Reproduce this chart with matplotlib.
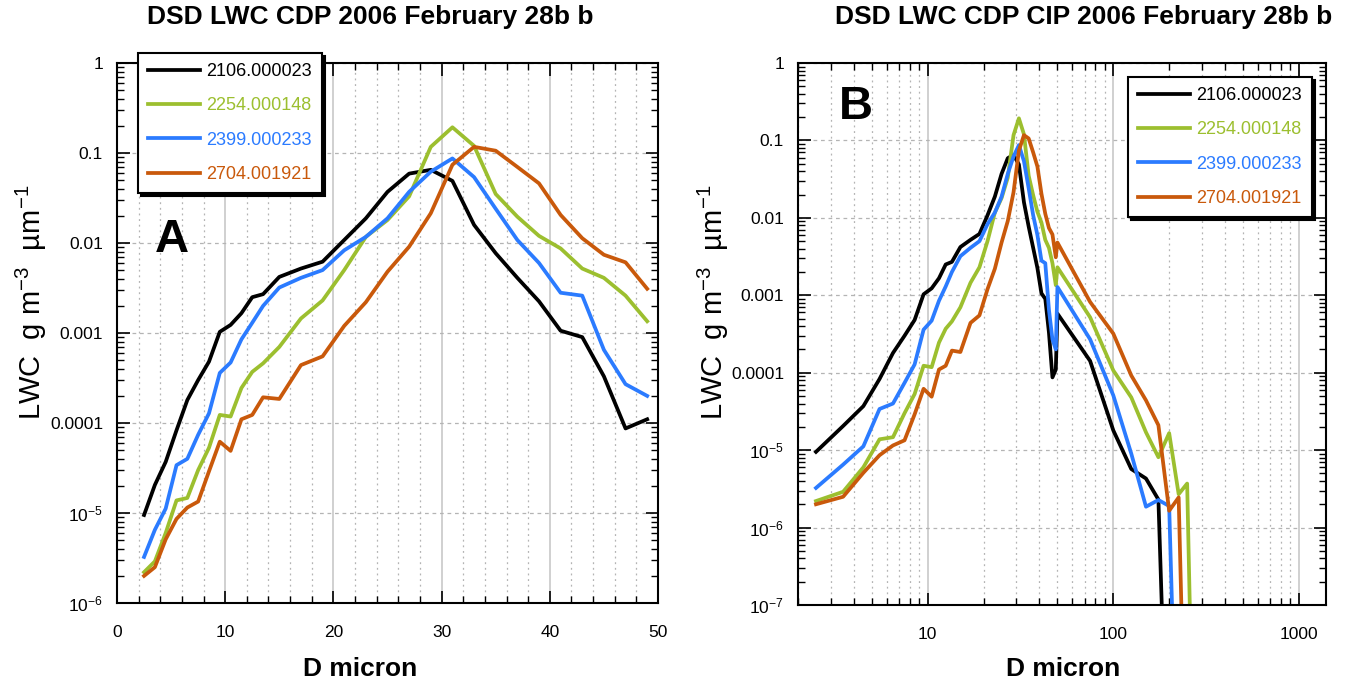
import numpy as np
import matplotlib
matplotlib.use('Agg')
import matplotlib.pyplot as plt
from matplotlib.ticker import FixedLocator, FuncFormatter, MultipleLocator, NullFormatter

plt.rcParams['font.family'] = ['Liberation Sans', 'DejaVu Sans']
plt.rcParams['mathtext.default'] = 'regular'

# CDP bin centres (micron)
d_cdp = [2.5, 3.5, 4.5, 5.5, 6.5, 7.5, 8.5, 9.5, 10.5, 11.5, 12.5, 13.5,
         15, 17, 19, 21, 23, 25, 27, 29, 31, 33, 35, 37, 39, 41, 43, 45, 47, 49]
# CIP bin centres (micron)
d_cip = [50, 75, 100, 125, 150, 175, 200, 225, 250, 275]

labels = ['2106.000023', '2254.000148', '2399.000233', '2704.001921']
colors = ['#000000', '#9cbf2f', '#2b7bff', '#c9590b']

# LWC  g m-3 um-1, CDP part
cdp_2106 = [9.5e-6, 2.05e-5, 3.7e-5, 8.3e-5, 1.8e-4, 3.0e-4, 4.8e-4, 1.03e-3, 1.23e-3, 1.66e-3,
            2.5e-3, 2.7e-3, 4.2e-3, 5.2e-3, 6.2e-3, 1.08e-2, 1.88e-2, 3.7e-2, 5.9e-2, 6.5e-2,
            4.9e-2, 1.59e-2, 7.7e-3, 4.1e-3, 2.25e-3, 1.06e-3, 9.0e-4, 3.3e-4, 8.7e-5, 1.1e-4]
cdp_2254 = [2.2e-6, 2.9e-6, 6.0e-6, 1.38e-5, 1.47e-5, 3.0e-5, 5.3e-5, 1.23e-4, 1.18e-4, 2.45e-4,
            3.7e-4, 4.6e-4, 7.0e-4, 1.45e-3, 2.3e-3, 5.0e-3, 1.17e-2, 1.8e-2, 3.3e-2, 1.17e-1,
            1.93e-1, 1.2e-1, 3.5e-2, 1.96e-2, 1.2e-2, 8.7e-3, 5.2e-3, 4.1e-3, 2.6e-3, 1.35e-3]
cdp_2399 = [3.25e-6, 6.5e-6, 1.12e-5, 3.4e-5, 4.0e-5, 7.4e-5, 1.28e-4, 3.6e-4, 4.7e-4, 8.5e-4,
            1.3e-3, 2.0e-3, 3.2e-3, 4.1e-3, 5.0e-3, 8.3e-3, 1.17e-2, 1.88e-2, 3.7e-2, 6.2e-2,
            8.7e-2, 5.4e-2, 2.4e-2, 1.08e-2, 6.0e-3, 2.8e-3, 2.6e-3, 6.5e-4, 2.7e-4, 2.0e-4]
cdp_2704 = [2.0e-6, 2.5e-6, 5.1e-6, 8.6e-6, 1.15e-5, 1.34e-5, 2.9e-5, 6.2e-5, 4.9e-5, 1.1e-4,
            1.23e-4, 1.93e-4, 1.85e-4, 4.4e-4, 5.5e-4, 1.2e-3, 2.2e-3, 4.8e-3, 9.1e-3, 2.14e-2,
            7.4e-2, 1.17e-1, 1.06e-1, 7.0e-2, 4.6e-2, 2.05e-2, 1.13e-2, 7.4e-3, 6.1e-3, 3.1e-3]

# CIP part (last value ~ empty bin)
cip_2106 = [5.8e-4, 1.42e-4, 1.8e-5, 5.7e-6, 4.3e-6, 2.3e-6, 1e-10]
cip_2254 = [2.3e-3, 5.2e-4, 1.07e-4, 4.8e-5, 1.7e-5, 8.1e-6, 1.66e-5, 2.7e-6, 3.7e-6, 1e-10]
cip_2399 = [1.28e-3, 2.7e-4, 5.1e-5, 9.0e-6, 1.86e-6, 2.27e-6, 1.9e-6, 1e-10]
cip_2704 = [4.8e-3, 8.2e-4, 3.2e-4, 9.2e-5, 4.4e-5, 2.1e-5, 1.65e-6, 2.45e-6, 1e-10]

cdp_all = [cdp_2106, cdp_2254, cdp_2399, cdp_2704]
cip_all = [cip_2106, cip_2254, cip_2399, cip_2704]


def yfmt(v, pos):
    e = int(round(np.log10(v)))
    names = {0: '1', -1: '0.1', -2: '0.01', -3: '0.001', -4: '0.0001'}
    if e >= -4:
        return names.get(e, '')
    return r'10$^{%d}$' % e


W, H = 1356, 688
fig = plt.figure(figsize=(W / 100, H / 100), dpi=100)
ax1 = fig.add_axes([117 / W, 1 - 603 / H, 541 / W, 540 / H])
ax2 = fig.add_axes([798 / W, 1 - 605 / H, 528 / W, 542 / H])

lw = 2.7
for i in range(4):
    ax1.plot(d_cdp, cdp_all[i], color=colors[i], lw=lw, label=labels[i])
    n = len(cip_all[i])
    # CDP + CIP joined in one line
    ax2.plot(d_cdp + d_cip[:n], cdp_all[i] + cip_all[i], color=colors[i], lw=lw, label=labels[i])

grid_c = '#b4b4b4'
for ax, lo in ((ax1, -6), (ax2, -7)):
    ax.set_yscale('log')
    ax.set_ylim(10.0 ** lo, 1)
    ax.yaxis.set_major_locator(FixedLocator([10.0 ** e for e in range(lo, 1)]))
    ax.yaxis.set_minor_locator(FixedLocator([m * 10.0 ** e for e in range(lo, 0) for m in range(2, 10)]))
    ax.yaxis.set_major_formatter(FuncFormatter(yfmt))
    ax.yaxis.set_minor_formatter(NullFormatter())
    ax.tick_params(which='both', direction='in', top=True, right=True, labelsize=12.5)
    ax.tick_params(which='major', length=9, width=1.2)
    ax.tick_params(which='minor', length=5, width=1)
    ax.tick_params(axis='y', pad=10)
    ax.tick_params(axis='x', pad=16)
    for s in ax.spines.values():
        s.set_linewidth(1.5)
    ax.grid(True, which='major', axis='x', color='#c8c8c8', lw=1.2, ls='-')
    ax.grid(True, which='minor', axis='x', color=grid_c, lw=0.9, ls=(0, (1.5, 3)))
    ax.grid(True, which='major', axis='y', color=grid_c, lw=0.9, ls=(0, (3, 3)))
    ax.set_axisbelow(True)

ax1.set_xlim(0, 50)
ax1.xaxis.set_major_locator(MultipleLocator(10))
ax1.xaxis.set_minor_locator(MultipleLocator(2))

ax2.set_xscale('log')
ax2.set_xlim(2, 1400)
ax2.xaxis.set_major_locator(FixedLocator([10, 100, 1000]))
ax2.xaxis.set_major_formatter(FuncFormatter(lambda v, p: '%d' % v))
ax2.xaxis.set_minor_locator(FixedLocator([m * 10.0 ** e for e in range(0, 4) for m in range(2, 10)]))
ax2.xaxis.set_minor_formatter(NullFormatter())

ylab = r'LWC  g m$^{-3}$  µm$^{-1}$'
fig.text(31 / W, 1 - 302 / H, ylab, rotation=90, ha='center', va='center', fontsize=21)
fig.text(713 / W, 1 - 302 / H, ylab, rotation=90, ha='center', va='center', fontsize=21)

fig.text(370 / W, 1 - 17 / H, 'DSD LWC CDP 2006 February 28b b',
         ha='center', va='center', fontsize=19, fontweight='bold')
fig.text(1084 / W, 1 - 17 / H, 'DSD LWC CDP CIP 2006 February 28b b',
         ha='center', va='center', fontsize=19, fontweight='bold')
fig.text(360 / W, 1 - 669 / H, 'D micron', ha='center', va='center', fontsize=19, fontweight='bold')
fig.text(1063 / W, 1 - 669 / H, 'D micron', ha='center', va='center', fontsize=19, fontweight='bold')

fig.text(172 / W, 1 - 240 / H, 'A', ha='center', va='center', fontsize=34, fontweight='bold')
fig.text(856 / W, 1 - 107 / H, 'B', ha='center', va='center', fontsize=34, fontweight='bold')

leg_kw = dict(loc='upper left', borderaxespad=0, fancybox=False, framealpha=1,
              edgecolor='black', fontsize=13, labelcolor='linecolor',
              handlelength=2.9, handletextpad=0.35, labelspacing=0.96, borderpad=0.55,
              shadow={'color': 'black', 'alpha': 1})
l1 = ax1.legend(bbox_to_anchor=(138 / W, 1 - 53 / H), bbox_transform=fig.transFigure, **leg_kw)
l2 = ax2.legend(bbox_to_anchor=(1128 / W, 1 - 77 / H), bbox_transform=fig.transFigure, **leg_kw)
for lg in (l1, l2):
    lg.get_frame().set_linewidth(1.5)
    lg.set_zorder(10)

fig.savefig('out.png', dpi=100)
